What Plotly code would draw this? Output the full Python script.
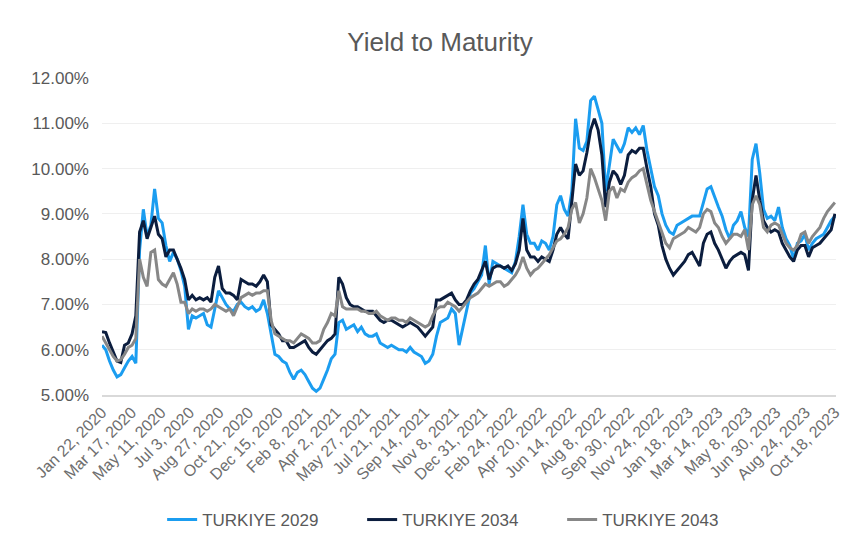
import pandas as pd
import plotly.graph_objects as go

# Weekly observation dates (Wednesdays) from Jan 22, 2020
dates = pd.date_range("2020-01-22", periods=196, freq="7D")

turkiye_2029 = [
    6.10, 6.00, 5.75, 5.55, 5.40, 5.45, 5.60, 5.75, 5.85, 5.70,
    8.20, 9.10, 8.50, 8.75, 9.55, 8.90, 8.80, 8.30, 7.95, 8.15,
    8.00, 7.75, 7.40, 6.45, 6.75, 6.70, 6.75, 6.80, 6.55, 6.50,
    6.90, 7.30, 7.15, 7.00, 6.90, 6.85, 7.00, 7.05, 6.95, 6.90,
    6.95, 6.85, 6.90, 7.10, 6.80, 6.30, 5.90, 5.85, 5.75, 5.70,
    5.50, 5.35, 5.50, 5.55, 5.45, 5.30, 5.15, 5.08, 5.15, 5.35,
    5.55, 5.80, 5.90, 6.60, 6.65, 6.45, 6.50, 6.55, 6.40, 6.50,
    6.35, 6.30, 6.30, 6.35, 6.15, 6.10, 6.05, 6.10, 6.05, 6.00,
    6.00, 5.95, 6.05, 5.95, 5.90, 5.85, 5.70, 5.75, 5.90, 6.30,
    6.60, 6.65, 6.70, 6.90, 6.80, 6.10, 6.50, 6.90, 7.25, 7.35,
    7.50, 7.65, 8.30, 7.45, 7.95, 7.90, 7.85, 7.80, 7.75, 7.70,
    7.95, 8.50, 9.20, 8.55, 8.35, 8.35, 8.20, 8.40, 8.35, 8.20,
    8.50, 9.20, 9.40, 9.10, 8.95, 9.50, 11.10, 10.45, 10.40, 10.60,
    11.50, 11.60, 11.30, 11.00, 9.50, 10.10, 10.65, 10.50, 10.35, 10.55,
    10.90, 10.80, 10.90, 10.75, 10.95, 10.40, 10.00, 9.60, 9.40, 9.00,
    8.75, 8.60, 8.55, 8.75, 8.80, 8.85, 8.90, 8.95, 8.95, 8.95,
    9.25, 9.55, 9.60, 9.35, 9.15, 8.95, 8.65, 8.45, 8.75, 8.85,
    9.05, 8.70, 8.50, 10.20, 10.55, 9.90, 9.10, 8.90, 8.95, 8.85,
    9.15, 8.70, 8.45, 8.30, 8.00, 8.35, 8.40, 8.55, 8.20, 8.35,
    8.45, 8.50, 8.55, 8.70, 8.85, 8.95,
]

turkiye_2034 = [
    6.40, 6.38, 6.15, 5.95, 5.75, 5.72, 6.10, 6.15, 6.35, 6.75,
    8.60, 8.85, 8.45, 8.70, 8.95, 8.55, 8.45, 8.05, 8.20, 8.20,
    8.00, 7.80, 7.55, 7.10, 7.20, 7.10, 7.15, 7.10, 7.15, 7.05,
    7.60, 7.85, 7.35, 7.25, 7.25, 7.20, 7.10, 7.55, 7.50, 7.45,
    7.45, 7.40, 7.50, 7.65, 7.50, 6.55, 6.45, 6.35, 6.20, 6.20,
    6.05, 6.05, 6.10, 6.15, 6.20, 6.05, 5.95, 5.90, 6.00, 6.10,
    6.20, 6.25, 6.35, 7.60, 7.45, 7.15, 7.00, 6.95, 6.95, 6.90,
    6.85, 6.85, 6.85, 6.75, 6.65, 6.60, 6.65, 6.65, 6.60, 6.55,
    6.50, 6.55, 6.60, 6.55, 6.50, 6.40, 6.30, 6.40, 6.50, 7.10,
    7.10, 7.15, 7.20, 7.25, 7.10, 7.00, 7.00, 7.10, 7.30, 7.45,
    7.55, 7.75, 7.95, 7.55, 7.80, 7.85, 7.85, 7.80, 7.85, 7.75,
    7.90, 8.20, 8.90, 8.20, 8.05, 8.05, 7.95, 8.05, 8.00, 7.95,
    8.20, 8.55, 8.70, 8.55, 8.45, 9.20, 10.10, 9.85, 9.95, 10.35,
    10.85, 11.10, 10.85, 10.30, 9.15, 9.70, 9.95, 9.85, 9.65, 9.85,
    10.30, 10.40, 10.35, 10.45, 10.45, 10.00, 9.60, 9.00, 8.75, 8.30,
    8.00, 7.80, 7.65, 7.75, 7.85, 7.95, 8.10, 8.15, 8.00, 7.85,
    8.35, 8.55, 8.60, 8.35, 8.20, 8.00, 7.80, 7.95, 8.05, 8.10,
    8.15, 8.10, 7.75, 9.30, 9.85, 9.30, 8.85, 8.70, 8.60, 8.65,
    8.60, 8.35, 8.20, 8.05, 7.95, 8.20, 8.30, 8.30, 8.05, 8.25,
    8.30, 8.35, 8.45, 8.55, 8.65, 9.00,
]

turkiye_2043 = [
    6.30, 6.15, 6.00, 5.85, 5.75, 5.78, 5.90, 6.05, 6.10, 6.25,
    8.00, 7.60, 7.40, 8.15, 8.20, 7.55, 7.45, 7.40, 7.55, 7.70,
    7.45, 7.05, 7.05, 6.80, 6.90, 6.85, 6.90, 6.90, 6.85, 6.90,
    7.00, 6.95, 6.90, 6.85, 6.90, 6.75, 6.95, 7.15, 7.20, 7.25,
    7.20, 7.25, 7.25, 7.30, 7.30, 6.65, 6.35, 6.30, 6.25, 6.20,
    6.20, 6.15, 6.25, 6.35, 6.30, 6.25, 6.15, 6.15, 6.20, 6.45,
    6.60, 6.80, 6.75, 7.30, 6.95, 6.90, 6.90, 6.90, 6.90, 6.85,
    6.85, 6.80, 6.80, 6.85, 6.75, 6.70, 6.65, 6.70, 6.70, 6.65,
    6.65, 6.60, 6.70, 6.65, 6.60, 6.55, 6.50, 6.55, 6.75, 6.90,
    6.95, 6.95, 7.05, 7.00, 6.95, 6.85, 6.95, 7.05, 7.15, 7.20,
    7.25, 7.35, 7.45, 7.40, 7.45, 7.50, 7.50, 7.40, 7.45, 7.55,
    7.65, 7.80, 8.05, 7.80, 7.65, 7.75, 7.80, 7.90, 8.00, 8.10,
    8.25, 8.40, 8.45, 8.55, 8.70, 9.10, 9.25, 8.80, 9.00, 9.35,
    10.00, 9.80, 9.55, 9.30, 8.85, 9.50, 9.60, 9.35, 9.55, 9.50,
    9.70, 9.80, 9.85, 9.95, 10.00, 9.65, 9.30, 9.05, 8.80, 8.55,
    8.35, 8.25, 8.45, 8.50, 8.55, 8.60, 8.70, 8.65, 8.60, 8.70,
    9.00, 9.10, 9.05, 8.80, 8.70, 8.50, 8.35, 8.45, 8.55, 8.55,
    8.50, 8.65, 8.20, 9.20, 9.40, 9.20, 8.70, 8.60, 8.75, 8.80,
    8.75, 8.55, 8.35, 8.25, 8.20, 8.30, 8.55, 8.60, 8.35, 8.50,
    8.60, 8.70, 8.90, 9.05, 9.15, 9.25,
]

tick_dates = [
    "2020-01-22", "2020-03-17", "2020-05-11", "2020-07-03", "2020-08-27",
    "2020-10-21", "2020-12-15", "2021-02-08", "2021-04-02", "2021-05-27",
    "2021-07-21", "2021-09-14", "2021-11-08", "2021-12-31", "2022-02-24",
    "2022-04-20", "2022-06-14", "2022-08-08", "2022-09-30", "2022-11-24",
    "2023-01-18", "2023-03-14", "2023-05-08", "2023-06-30", "2023-08-24",
    "2023-10-18",
]
tick_labels = [
    "Jan 22, 2020", "Mar 17, 2020", "May 11, 2020", "Jul 3, 2020", "Aug 27, 2020",
    "Oct 21, 2020", "Dec 15, 2020", "Feb 8, 2021", "Apr 2, 2021", "May 27, 2021",
    "Jul 21, 2021", "Sep 14, 2021", "Nov 8, 2021", "Dec 31, 2021", "Feb 24, 2022",
    "Apr 20, 2022", "Jun 14, 2022", "Aug 8, 2022", "Sep 30, 2022", "Nov 24, 2022",
    "Jan 18, 2023", "Mar 14, 2023", "May 8, 2023", "Jun 30, 2023", "Aug 24, 2023",
    "Oct 18, 2023",
]

series = [
    ("TURKIYE 2029", turkiye_2029, "#1B9DF0"),
    ("TURKIYE 2034", turkiye_2034, "#0B1D3E"),
    ("TURKIYE 2043", turkiye_2043, "#878787"),
]

FONT = "Liberation Sans, Arial, sans-serif"
GREY = "#595959"

fig = go.Figure()
for name, vals, color in series:
    fig.add_trace(go.Scatter(
        x=dates, y=vals, name=name, mode="lines",
        line=dict(color=color, width=3),
    ))

fig.update_layout(
    width=856, height=540,
    margin=dict(l=102, r=20, t=78, b=145),
    paper_bgcolor="white", plot_bgcolor="white",
    font=dict(family=FONT, color=GREY),
    title=dict(text="Yield to Maturity", x=440 / 856, xanchor="center",
               y=1 - 42 / 540, yanchor="middle", yref="container",
               font=dict(size=26, color=GREY, family=FONT)),
    legend=dict(orientation="h", x=420 / 856, xanchor="center",
                y=1 - 520 / 540, yanchor="middle", yref="container",
                font=dict(size=17, color=GREY, family=FONT),
                entrywidth=155, entrywidthmode="pixels"),
    showlegend=True,
)
fig.update_xaxes(
    type="date", range=["2020-01-22", "2023-10-20"],
    tickmode="array", tickvals=tick_dates, ticktext=tick_labels,
    tickangle=-45, tickfont=dict(size=16, color="#6E6E6E"),
    showgrid=False, showline=True, linecolor="#D9D9D9", linewidth=1.5,
    ticks="",
)
fig.update_yaxes(
    range=[5, 12], dtick=1, tickformat=".2f", ticksuffix="%",
    tickfont=dict(size=17, color=GREY),
    showgrid=True, gridcolor="#EFEFEF", gridwidth=1,
    zeroline=False, showline=False, ticklabelstandoff=12,
)

fig.write_html("out.html")
